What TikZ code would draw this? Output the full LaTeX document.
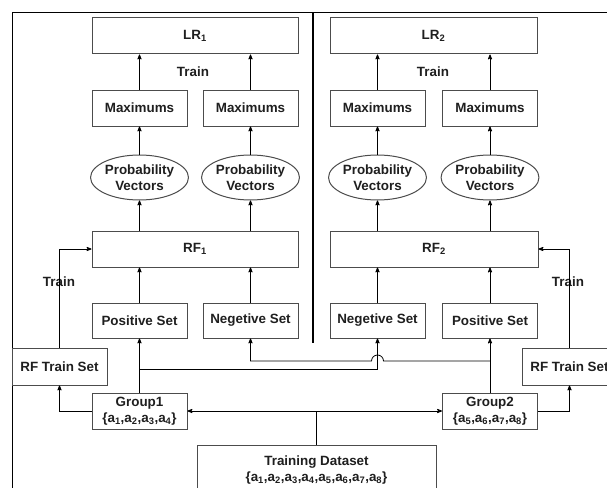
\documentclass[tikz,border=0pt]{standalone}
\usepackage{fontspec}
\setmainfont{Liberation Sans}
\usetikzlibrary{arrows,shapes.geometric}
\newcommand{\ai}[1]{a\textsubscript{#1}}
\tikzset{
  txt/.style = {font=\fontsize{13.4}{16}\selectfont\bfseries, text=black!88},
  box/.style = {txt, draw=black!70, line width=1pt, fill=white, align=center,
    inner sep=0pt, minimum width=95pt, minimum height=36pt},
  wide/.style = {box, minimum width=206pt},% LR and RF
  vec/.style = {box, ellipse, minimum width=97pt, minimum height=45pt},
}
\begin{document}
\begin{tikzpicture}[x=1pt,y=-1pt,->,>=stealth',line width=0.8pt]
\useasboundingbox (0,0) rectangle (607,487);
\clip (0,0) rectangle (607,487);
% frame and divider
\draw[-,line width=1pt] (12,13) rectangle (640,520);
\draw[-,line width=2pt] (313,13) -- (313,343);
% top row
\node [wide] (lr1) at (195,36) {LR\textsubscript{1}};
\node [wide, minimum width=207pt] (lr2) at (433.5,36) {LR\textsubscript{2}};
\node [txt] (train1) at (193,72) {Train};
\node [txt] (train2) at (433,72) {Train};
\node [box] (max1) at (139.5,108) {Maximums};
\node [box] (max2) at (250.5,108) {Maximums};
\node [box] (max3) at (377.5,108) {Maximums};
\node [box] (max4) at (490,108) {Maximums};
\node [vec] (pv1) at (139.5,177.5) {Probability\\Vectors};
\node [vec] (pv2) at (250.5,177.5) {Probability\\Vectors};
\node [vec] (pv3) at (377.5,177.5) {Probability\\Vectors};
\node [vec] (pv4) at (490,177.5) {Probability\\Vectors};
\node [wide] (rf1) at (195,249) {RF\textsubscript{1}};
\node [wide, minimum width=208pt] (rf2) at (434,249) {RF\textsubscript{2}};
\node [box, minimum height=35pt] (pos1) at (139.5,320.5) {Positive Set};
\node [box, minimum height=35pt] (neg1) at (250.5,320.5) {Negetive Set};
\node [box, minimum height=35pt] (neg2) at (377.5,320.5) {Negetive Set};
\node [box, minimum height=35pt] (pos2) at (490,320.5) {Positive Set};
\node [box, minimum height=37pt] (rfts1) at (59.5,366.5) {RF Train Set};
\node [box, minimum height=37pt] (rfts2) at (569.5,366.5) {RF Train Set};
\node [txt] (train3) at (59,282) {Train};
\node [txt] (train4) at (568,282) {Train};
\node [box] (g1) at (139.5,411) {Group1\\\{\ai1,\ai2,\ai3,\ai4\}};
\node [box] (g2) at (490,411) {Group2\\\{\ai5,\ai6,\ai7,\ai8\}};
\node [box, minimum width=239pt, minimum height=50pt] (td) at (316.5,470)
  {Training Dataset\\\{\ai1,\ai2,\ai3,\ai4,\ai5,\ai6,\ai7,\ai8\}};
% upward flow
\draw (max1) -- (max1 |- lr1.south);
\draw (max2) -- (max2 |- lr1.south);
\draw (max3) -- (max3 |- lr2.south);
\draw (max4) -- (max4 |- lr2.south);
\draw (pv1) -- (max1);
\draw (pv2) -- (max2);
\draw (pv3) -- (max3);
\draw (pv4) -- (max4);
\draw (pv1 |- rf1.north) -- (pv1);
\draw (pv2 |- rf1.north) -- (pv2);
\draw (pv3 |- rf2.north) -- (pv3);
\draw (pv4 |- rf2.north) -- (pv4);
\draw (pos1) -- (pos1 |- rf1.south);
\draw (neg1) -- (neg1 |- rf1.south);
\draw (neg2) -- (neg2 |- rf2.south);
\draw (pos2) -- (pos2 |- rf2.south);
% RF train sets
\draw (rfts1) |- (rf1.west);
\draw (rfts2) |- (rf2.east);
\draw (g1.west) -| (rfts1.south);
\draw (g2.east) -| (rfts2.south);
% groups to sets
\coordinate (ja) at (139.5,369);
\coordinate (jb) at (490,361);
\coordinate (hop) at (neg2 |- jb);
\draw (g1) -- (pos1);
\draw (g2) -- (pos2);
\draw (ja) -| (neg2.south);
\draw (jb) -- ([xshift=6pt]hop) arc[start angle=0, end angle=180, radius=6pt]
  -- (neg1 |- jb) -- (neg1.south);
% dataset split
\draw[-] (td.north) -- (td.north |- g1.east);
\draw[<->] (g1.east) -- (g2.west);
\end{tikzpicture}
\end{document}
